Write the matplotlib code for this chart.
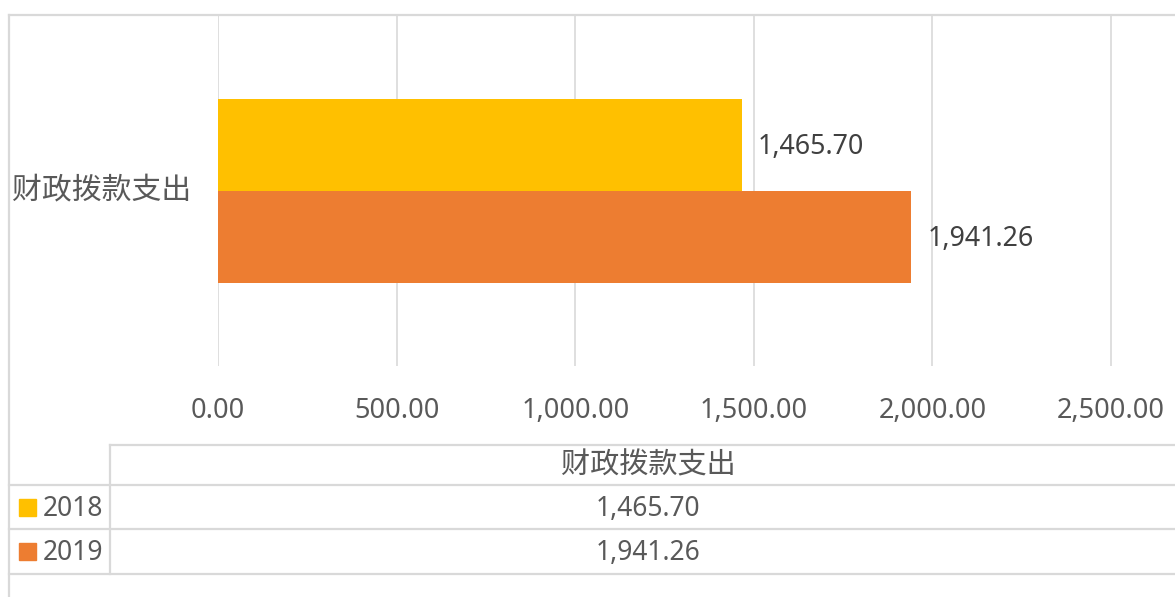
import matplotlib
matplotlib.use("Agg")
import matplotlib.pyplot as plt
from matplotlib.lines import Line2D
from matplotlib.patches import Rectangle

# data
category = "财政拨款支出"
years = ["2018", "2019"]
values = [1465.70, 1941.26]
colors = ["#FFC000", "#ED7D31"]
xticks = [0, 500, 1000, 1500, 2000, 2500]

W, H = 1175, 597
fig = plt.figure(figsize=(W / 100, H / 100), dpi=100)

def fx(px):
    return px / W

def fy(py):
    return 1 - py / H

grid_c = "#D9D9D9"
text_c = "#595959"
cjk = ["Noto Sans CJK SC", "DejaVu Sans"]
num = ["Noto Sans", "DejaVu Sans"]

# plot area
ax = fig.add_axes([fx(218), fy(366), fx(W - 218), 351 / H])
bar_h = 92 / 351
for i, (yr, v) in enumerate(zip(years, values)):
    y = (i - 0.5) * bar_h
    ax.barh(y, v, height=bar_h, color=colors[i], zorder=3)
    ax.text(v + 45, y + 0.006, f"{v:,.2f}", va="center", ha="left",
            fontsize=19.3, color="#404040", family=num, zorder=4)

ax.set_xlim(0, 957 / 178.6 * 500)
ax.set_ylim(0.5, -0.5)
ax.set_xticks(xticks)
ax.set_xticklabels([f"{t:,.2f}" for t in xticks], family=num, fontsize=19.5, color=text_c)
ax.tick_params(axis="x", length=0, pad=22)
ax.set_yticks([])
ax.grid(axis="x", color=grid_c, linewidth=1.2, zorder=0)
for s in ax.spines.values():
    s.set_visible(False)

# category label
fig.text(fx(12), fy(190), category, ha="left", va="center",
         fontsize=21.5, color=text_c, family=cjk)

# chart border (left + top)
line_c = "#D9D9D9"
fig.add_artist(Line2D([fx(9), fx(9)], [fy(15), 0], color=line_c, lw=1.6))
fig.add_artist(Line2D([fx(9), 1], [fy(15), fy(15)], color=line_c, lw=1.6))

# data table
fig.add_artist(Line2D([fx(110), 1], [fy(445), fy(445)], color=line_c, lw=1.6))
for yy in [485, 529, 574]:
    fig.add_artist(Line2D([fx(9), 1], [fy(yy), fy(yy)], color=line_c, lw=1.6))
fig.add_artist(Line2D([fx(110), fx(110)], [fy(445), fy(574)], color=line_c, lw=1.6))

cx = fx(648)
fig.text(cx, fy(465), category, ha="center", va="center",
         fontsize=21, color=text_c, family=cjk)
row_y = [507, 551]
for i, (yr, v) in enumerate(zip(years, values)):
    fig.add_artist(Rectangle((fx(19), fy(row_y[i] + 9)), fx(17), 17 / H,
                             color=colors[i], transform=fig.transFigure))
    fig.text(fx(43), fy(row_y[i] + 2), yr, ha="left", va="center",
             fontsize=19, color=text_c, family=num)
    fig.text(cx, fy(row_y[i] + 2), f"{v:,.2f}", ha="center", va="center",
             fontsize=19, color=text_c, family=num)

fig.savefig("out.png", dpi=100, facecolor="white")
